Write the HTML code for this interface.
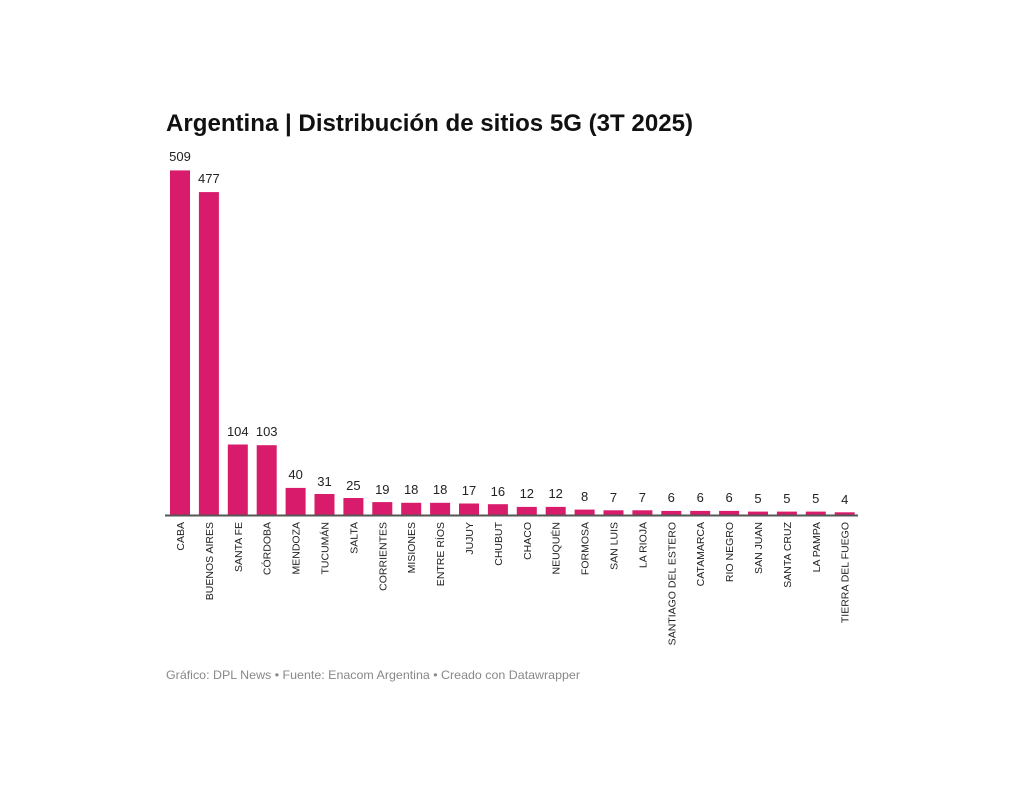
<!DOCTYPE html>
<html><head><meta charset="utf-8"><style>
html,body{margin:0;padding:0;background:#fff;}
svg{display:block;font-family:"Liberation Sans",sans-serif;}
</style></head><body>
<svg width="1024" height="789" viewBox="0 0 1024 789">
<text x="166" y="131" font-size="24" font-weight="bold" fill="#111" textLength="527" lengthAdjust="spacingAndGlyphs">Argentina | Distribución de sitios 5G (3T 2025)</text>
<g fill="#d81b6a">
<rect x="170" y="170.4" width="20" height="344.6"/>
<rect x="198.9" y="192.1" width="20" height="322.9"/>
<rect x="227.8" y="444.5" width="20" height="70.5"/>
<rect x="256.7" y="445.2" width="20" height="69.8"/>
<rect x="285.6" y="487.9" width="20" height="27.1"/>
<rect x="314.5" y="494" width="20" height="21"/>
<rect x="343.4" y="498" width="20" height="17"/>
<rect x="372.3" y="502.1" width="20" height="12.9"/>
<rect x="401.2" y="502.8" width="20" height="12.2"/>
<rect x="430.1" y="502.8" width="20" height="12.2"/>
<rect x="459" y="503.5" width="20" height="11.5"/>
<rect x="487.9" y="504.2" width="20" height="10.8"/>
<rect x="516.8" y="506.9" width="20" height="8.1"/>
<rect x="545.7" y="506.9" width="20" height="8.1"/>
<rect x="574.6" y="509.6" width="20" height="5.4"/>
<rect x="603.5" y="510.3" width="20" height="4.7"/>
<rect x="632.4" y="510.3" width="20" height="4.7"/>
<rect x="661.3" y="510.9" width="20" height="4.1"/>
<rect x="690.2" y="510.9" width="20" height="4.1"/>
<rect x="719.1" y="510.9" width="20" height="4.1"/>
<rect x="748" y="511.6" width="20" height="3.4"/>
<rect x="776.9" y="511.6" width="20" height="3.4"/>
<rect x="805.8" y="511.6" width="20" height="3.4"/>
<rect x="834.7" y="512.3" width="20" height="2.7"/>
</g>
<line x1="165" y1="515.5" x2="858" y2="515.5" stroke="#555" stroke-width="2"/>
<g font-size="13" fill="#222" text-anchor="middle">
<text x="180" y="161">509</text>
<text x="208.9" y="183">477</text>
<text x="237.8" y="436">104</text>
<text x="266.7" y="436">103</text>
<text x="295.6" y="479">40</text>
<text x="324.5" y="486">31</text>
<text x="353.4" y="490">25</text>
<text x="382.3" y="494">19</text>
<text x="411.2" y="494">18</text>
<text x="440.1" y="494">18</text>
<text x="469" y="495">17</text>
<text x="497.9" y="496">16</text>
<text x="526.8" y="498">12</text>
<text x="555.7" y="498">12</text>
<text x="584.6" y="501">8</text>
<text x="613.5" y="502">7</text>
<text x="642.4" y="502">7</text>
<text x="671.3" y="502">6</text>
<text x="700.2" y="502">6</text>
<text x="729.1" y="502">6</text>
<text x="758" y="503">5</text>
<text x="786.9" y="503">5</text>
<text x="815.8" y="503">5</text>
<text x="844.7" y="504">4</text>
</g>
<g font-size="10.5" fill="#222" text-anchor="end">
<text transform="translate(184,522) rotate(-90)">CABA</text>
<text transform="translate(212.9,522) rotate(-90)">BUENOS AIRES</text>
<text transform="translate(241.8,522) rotate(-90)">SANTA FE</text>
<text transform="translate(270.7,522) rotate(-90)">CÓRDOBA</text>
<text transform="translate(299.6,522) rotate(-90)">MENDOZA</text>
<text transform="translate(328.5,522) rotate(-90)">TUCUMÁN</text>
<text transform="translate(357.4,522) rotate(-90)">SALTA</text>
<text transform="translate(386.3,522) rotate(-90)">CORRIENTES</text>
<text transform="translate(415.2,522) rotate(-90)">MISIONES</text>
<text transform="translate(444.1,522) rotate(-90)">ENTRE RÍOS</text>
<text transform="translate(473,522) rotate(-90)">JUJUY</text>
<text transform="translate(501.9,522) rotate(-90)">CHUBUT</text>
<text transform="translate(530.8,522) rotate(-90)">CHACO</text>
<text transform="translate(559.7,522) rotate(-90)">NEUQUÉN</text>
<text transform="translate(588.6,522) rotate(-90)">FORMOSA</text>
<text transform="translate(617.5,522) rotate(-90)">SAN LUIS</text>
<text transform="translate(646.4,522) rotate(-90)">LA RIOJA</text>
<text transform="translate(675.3,522) rotate(-90)">SANTIAGO DEL ESTERO</text>
<text transform="translate(704.2,522) rotate(-90)">CATAMARCA</text>
<text transform="translate(733.1,522) rotate(-90)">RIO NEGRO</text>
<text transform="translate(762,522) rotate(-90)">SAN JUAN</text>
<text transform="translate(790.9,522) rotate(-90)">SANTA CRUZ</text>
<text transform="translate(819.8,522) rotate(-90)">LA PAMPA</text>
<text transform="translate(848.7,522) rotate(-90)">TIERRA DEL FUEGO</text>
</g>
<text x="166" y="679" font-size="12" fill="#888" textLength="414" lengthAdjust="spacingAndGlyphs">Gráfico: DPL News • Fuente: Enacom Argentina • Creado con Datawrapper</text>
</svg>
</body></html>
